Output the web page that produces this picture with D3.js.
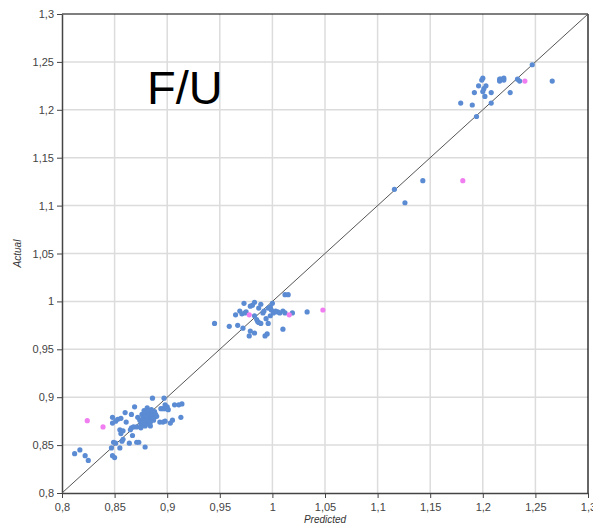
<!DOCTYPE html>
<html>
<head>
<meta charset="utf-8">
<script src="https://cdn.jsdelivr.net/npm/d3@7"></script>
<style>
  body { margin: 0; background: #fff; }
  svg { font-family: "Liberation Sans", Arial, sans-serif; }
</style>
</head>
<body>
<div id="chart"></div>
<script>
// predicted / actual pairs, blue series
var bluePredicted = [
  0.812, 0.817, 0.822, 0.825, 0.847, 0.848, 0.850, 0.849, 0.851,
  0.848, 0.848, 0.851, 0.853, 0.856, 0.855, 0.856, 0.855, 0.858, 0.857, 0.858,
  0.860, 0.861, 0.864, 0.866, 0.866, 0.865, 0.867, 0.868,
  0.869, 0.871, 0.871, 0.872, 0.873, 0.874, 0.875, 0.875,
  0.876, 0.877, 0.878, 0.878, 0.879, 0.879, 0.880, 0.880, 0.881, 0.881, 0.882, 0.882,
  0.883, 0.883, 0.884, 0.884, 0.885, 0.885, 0.886, 0.886, 0.887, 0.887, 0.888, 0.888,
  0.889, 0.890, 0.877, 0.880,
  0.879, 0.886, 0.897, 0.894, 0.896, 0.898, 0.900, 0.901, 0.898, 0.907, 0.911, 0.914,
  0.913, 0.893, 0.896, 0.898, 0.903, 0.905,
  0.945, 0.959, 0.965, 0.967, 0.969, 0.971, 0.973, 0.972, 0.974, 0.975, 0.979, 0.979,
  0.981, 0.983, 0.978, 0.983, 0.983, 0.985, 0.986, 0.987, 0.987, 0.989, 0.989, 0.991,
  0.992, 0.993, 0.995, 0.996, 0.996, 0.998, 0.999, 1.001, 1.003, 1.005, 1.007, 1.010,
  1.012, 1.015, 1.010, 1.012, 1.019, 1.033, 0.998, 0.994, 1.000,
  1.116, 1.126, 1.143, 1.179, 1.190, 1.192, 1.194, 1.196, 1.199, 1.200, 1.200, 1.201,
  1.202, 1.203, 1.208, 1.208, 1.216, 1.216, 1.217, 1.220, 1.220, 1.226, 1.233, 1.235,
  1.247, 1.266
];
var blueActual = [
  0.841, 0.845, 0.839, 0.834, 0.847, 0.839, 0.837, 0.853, 0.852,
  0.879, 0.873, 0.875, 0.877, 0.878, 0.847, 0.862, 0.866, 0.865, 0.854, 0.856,
  0.884, 0.874, 0.852, 0.882, 0.868, 0.866, 0.860, 0.869,
  0.890, 0.853, 0.869, 0.879, 0.853, 0.876, 0.868, 0.872,
  0.882, 0.878, 0.886, 0.874, 0.880, 0.870, 0.884, 0.876, 0.889, 0.872, 0.880, 0.886,
  0.877, 0.883, 0.874, 0.870, 0.881, 0.887, 0.878, 0.884, 0.876, 0.882, 0.879, 0.885,
  0.882, 0.880, 0.873, 0.880,
  0.848, 0.899, 0.899, 0.888, 0.888, 0.888, 0.890, 0.887, 0.892, 0.892, 0.892, 0.893,
  0.879, 0.874, 0.874, 0.875, 0.873, 0.876,
  0.977, 0.974, 0.986, 0.975, 0.990, 0.987, 0.998, 0.972, 0.988, 0.989, 0.995, 0.969,
  0.996, 0.999, 0.964, 0.967, 0.985, 0.981, 0.979, 0.993, 0.978, 0.977, 0.997, 0.988,
  0.990, 0.964, 0.966, 0.977, 0.993, 0.994, 0.991, 0.988, 0.990, 0.989, 0.988, 0.971,
  1.007, 1.007, 0.990, 0.988, 0.988, 0.989, 0.985, 0.982, 0.998,
  1.117, 1.103, 1.126, 1.207, 1.205, 1.218, 1.193, 1.225, 1.231, 1.233, 1.219, 1.222,
  1.214, 1.225, 1.218, 1.207, 1.232, 1.230, 1.232, 1.233, 1.231, 1.218, 1.232, 1.230,
  1.247, 1.230
];
// pink series
var pinkPredicted = [0.824, 0.839, 0.978, 1.016, 1.048, 1.181, 1.240];
var pinkActual = [0.8755, 0.869, 0.986, 0.986, 0.991, 1.126, 1.230];

var tickValues = [0.8, 0.85, 0.9, 0.95, 1, 1.05, 1.1, 1.15, 1.2, 1.25, 1.3];

var W = 593, H = 525;
var margin = { top: 14, right: 5, bottom: 32, left: 62 };

var svg = d3.select('#chart').append('svg').attr('width', W).attr('height', H);

var x = d3.scaleLinear().domain([0.8, 1.3]).range([margin.left, W - margin.right]);
var y = d3.scaleLinear().domain([0.8, 1.3]).range([H - margin.bottom, margin.top]);

var fmt = function(d) { return String(d).replace('.', ','); };

// grid
svg.append('g').selectAll('line').data(tickValues.slice(1, -1)).enter().append('line')
  .attr('x1', d => x(d)).attr('x2', d => x(d))
  .attr('y1', y(0.8)).attr('y2', y(1.3))
  .attr('stroke', '#dcdcdc').attr('stroke-width', 1.5);
svg.append('g').selectAll('line').data(tickValues.slice(1, -1)).enter().append('line')
  .attr('y1', d => y(d)).attr('y2', d => y(d))
  .attr('x1', x(0.8)).attr('x2', x(1.3))
  .attr('stroke', '#dcdcdc').attr('stroke-width', 1.5);

// frame top/right
svg.append('line').attr('x1', x(0.8)).attr('x2', x(1.3)).attr('y1', y(1.3)).attr('y2', y(1.3))
  .attr('stroke', '#000').attr('stroke-width', 1.2);
svg.append('line').attr('x1', x(1.3)).attr('x2', x(1.3)).attr('y1', y(1.3)).attr('y2', y(0.8))
  .attr('stroke', '#000').attr('stroke-width', 1.2);

// axes
var xAxis = svg.append('g').attr('transform', 'translate(0,' + y(0.8) + ')')
  .call(d3.axisBottom(x).tickValues(tickValues).tickFormat(fmt).tickSize(5).tickSizeOuter(0));
var yAxis = svg.append('g').attr('transform', 'translate(' + x(0.8) + ',0)')
  .call(d3.axisLeft(y).tickValues(tickValues).tickFormat(fmt).tickSize(5).tickSizeOuter(0));
[xAxis, yAxis].forEach(function(a) {
  a.select('.domain').attr('stroke', '#444').attr('stroke-width', 1.5);
  a.selectAll('.tick line').attr('stroke', '#444');
  a.selectAll('.tick text').attr('fill', '#444').style('font-size', '11px')
    .style('font-family', '"Liberation Sans", Arial, sans-serif');
});
xAxis.selectAll('.tick text').attr('dy', '0.9em');

// diagonal
svg.append('line')
  .attr('x1', x(0.8)).attr('y1', y(0.8)).attr('x2', x(1.3)).attr('y2', y(1.3))
  .attr('stroke', '#555').attr('stroke-width', 1);

// points
svg.append('g').selectAll('circle').data(d3.range(bluePredicted.length)).enter().append('circle')
  .attr('cx', i => x(bluePredicted[i])).attr('cy', i => y(blueActual[i]))
  .attr('r', 2.6).attr('fill', '#5b8bd3');
svg.append('g').selectAll('circle').data(d3.range(pinkPredicted.length)).enter().append('circle')
  .attr('cx', i => x(pinkPredicted[i])).attr('cy', i => y(pinkActual[i]))
  .attr('r', 2.6).attr('fill', '#f07ef0');

// labels
svg.append('text').attr('x', 147).attr('y', 104).text('F/U')
  .style('font-size', '47px').attr('fill', '#000');
svg.append('text').attr('x', (x(0.8) + x(1.3)) / 2).attr('y', 523)
  .attr('text-anchor', 'middle').style('font-size', '10px').style('font-style', 'italic')
  .attr('fill', '#333').text('Predicted');
svg.append('text').attr('transform', 'translate(21,' + (y(0.8) + y(1.3)) / 2 + ') rotate(-90)')
  .attr('text-anchor', 'middle').style('font-size', '10px').style('font-style', 'italic')
  .attr('fill', '#333').text('Actual');
</script>
</body>
</html>
